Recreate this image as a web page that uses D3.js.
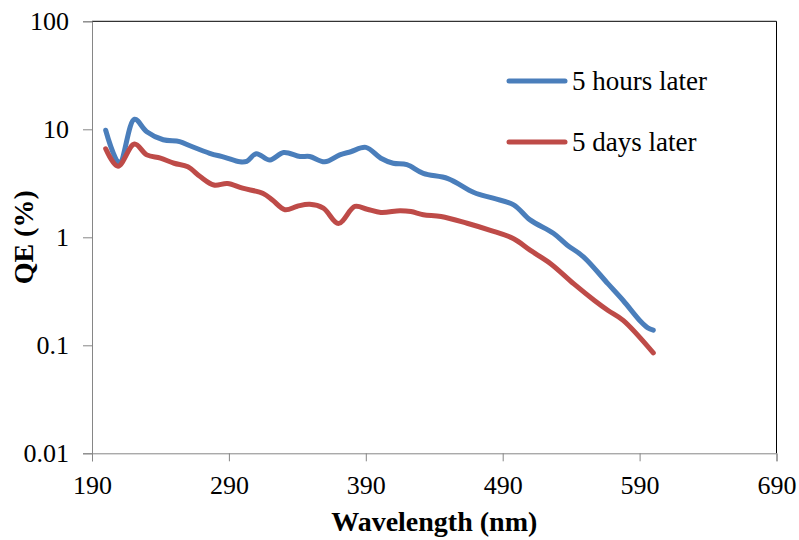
<!DOCTYPE html>
<html>
<head>
<meta charset="utf-8">
<script src="https://cdn.jsdelivr.net/npm/d3@7"></script>
<style>
  html, body { margin: 0; padding: 0; background: #fff; }
  svg { display: block; }
</style>
</head>
<body>
<svg id="chart" width="799" height="540"></svg>
<script>
// ---- data ----
const seriesNames = ["5 hours later", "5 days later"];
const hoursWavelength = [200, 210, 221, 230, 242, 254, 262, 276, 287, 298, 303, 310, 320, 330, 342, 349, 360, 371, 379, 390, 401, 410, 420, 432, 450, 469, 483, 498, 510, 527, 537, 549, 567, 578, 591, 596, 600];
const hoursQE = [9.8, 4.9, 12.4, 9.5, 8.0, 7.7, 7.0, 6.0, 5.5, 5.0, 5.05, 5.95, 5.2, 6.1, 5.6, 5.6, 5.0, 5.8, 6.2, 6.8, 5.4, 4.85, 4.7, 3.9, 3.5, 2.6, 2.3, 2.0, 1.45, 1.09, 0.85, 0.66, 0.37, 0.26, 0.165, 0.145, 0.138];
const daysWavelength = [200, 209, 221, 230, 240, 250, 260, 269, 279, 289, 300, 315, 322, 331, 340, 349, 359, 370, 382, 391, 401, 415, 423, 432, 445, 464, 481, 498, 510, 525, 542, 557, 567, 578, 600];
const daysQE = [6.6, 4.55, 7.3, 5.8, 5.4, 4.85, 4.5, 3.65, 3.05, 3.15, 2.85, 2.55, 2.2, 1.8, 1.94, 2.02, 1.86, 1.34, 1.93, 1.82, 1.7, 1.76, 1.73, 1.62, 1.56, 1.35, 1.16, 0.97, 0.76, 0.57, 0.37, 0.26, 0.21, 0.17, 0.085];
const xTicks = [190, 290, 390, 490, 590, 690];
const yTicks = [0.01, 0.1, 1, 10, 100];
const yTickLabels = ["0.01", "0.1", "1", "10", "100"];
const colors = ["#4a7ebb", "#be4b48"];

const FONT = "'Liberation Serif', 'DejaVu Serif', serif";

// ---- layout ----
const svg = d3.select("#chart");
const plotLeft = 92, plotRight = 776.5, plotTop = 21.3, plotBottom = 453.3;

const x = d3.scaleLinear().domain([190, 690]).range([plotLeft, plotRight]);
const y = d3.scaleLog().domain([0.01, 100]).range([plotBottom, plotTop]);

// plot border (top & right black)
svg.append("line").attr("x1", plotLeft).attr("x2", plotRight).attr("y1", plotTop).attr("y2", plotTop)
  .attr("stroke", "#000").attr("stroke-width", 1);
svg.append("line").attr("x1", plotRight).attr("x2", plotRight).attr("y1", plotTop).attr("y2", plotBottom)
  .attr("stroke", "#000").attr("stroke-width", 1);

function styleText(sel, size, weight) {
  sel.style("font-family", FONT).style("font-size", size + "px")
    .style("font-weight", weight || "normal").style("fill", "#000");
}

// y axis
const yAxis = d3.axisLeft(y).tickValues(yTicks)
  .tickFormat((d, i) => yTickLabels[i]).tickSize(9).tickPadding(14);
const gy = svg.append("g").attr("transform", `translate(${plotLeft},0)`).call(yAxis);
gy.select(".domain").attr("stroke", "#868686");
gy.selectAll(".tick line").attr("stroke", "#868686");
styleText(gy.selectAll(".tick text"), 26);

// x axis
const xAxis = d3.axisBottom(x).tickValues(xTicks).tickFormat(d3.format("d")).tickSize(8).tickPadding(14);
const gx = svg.append("g").attr("transform", `translate(0,${plotBottom})`).call(xAxis);
gx.select(".domain").attr("stroke", "#868686");
gx.selectAll(".tick line").attr("stroke", "#868686");
styleText(gx.selectAll(".tick text"), 26);

// axis titles
styleText(svg.append("text").attr("x", (plotLeft + plotRight) / 2).attr("y", 531)
  .attr("text-anchor", "middle").text("Wavelength (nm)"), 28, "bold");
styleText(svg.append("text").attr("transform", `translate(33,${(plotTop + plotBottom) / 2}) rotate(-90)`)
  .attr("text-anchor", "middle").text("QE (%)"), 28, "bold");

// lines
const line = d3.line().x(d => x(d[0])).y(d => y(d[1])).curve(d3.curveCatmullRom.alpha(0.5));
const series = [
  d3.zip(hoursWavelength, hoursQE),
  d3.zip(daysWavelength, daysQE)
];
series.forEach((s, i) => {
  svg.append("path").datum(s).attr("d", line)
    .attr("fill", "none").attr("stroke", colors[i]).attr("stroke-width", 5)
    .attr("stroke-linejoin", "round").attr("stroke-linecap", "round");
});

// legend
const legendY = [81, 142];
seriesNames.forEach((name, i) => {
  svg.append("line").attr("x1", 509).attr("x2", 565).attr("y1", legendY[i]).attr("y2", legendY[i])
    .attr("stroke", colors[i]).attr("stroke-width", 5).attr("stroke-linecap", "round");
  styleText(svg.append("text").attr("x", 572).attr("y", legendY[i]).attr("dy", "0.35em").text(name), 27);
});
</script>
</body>
</html>
